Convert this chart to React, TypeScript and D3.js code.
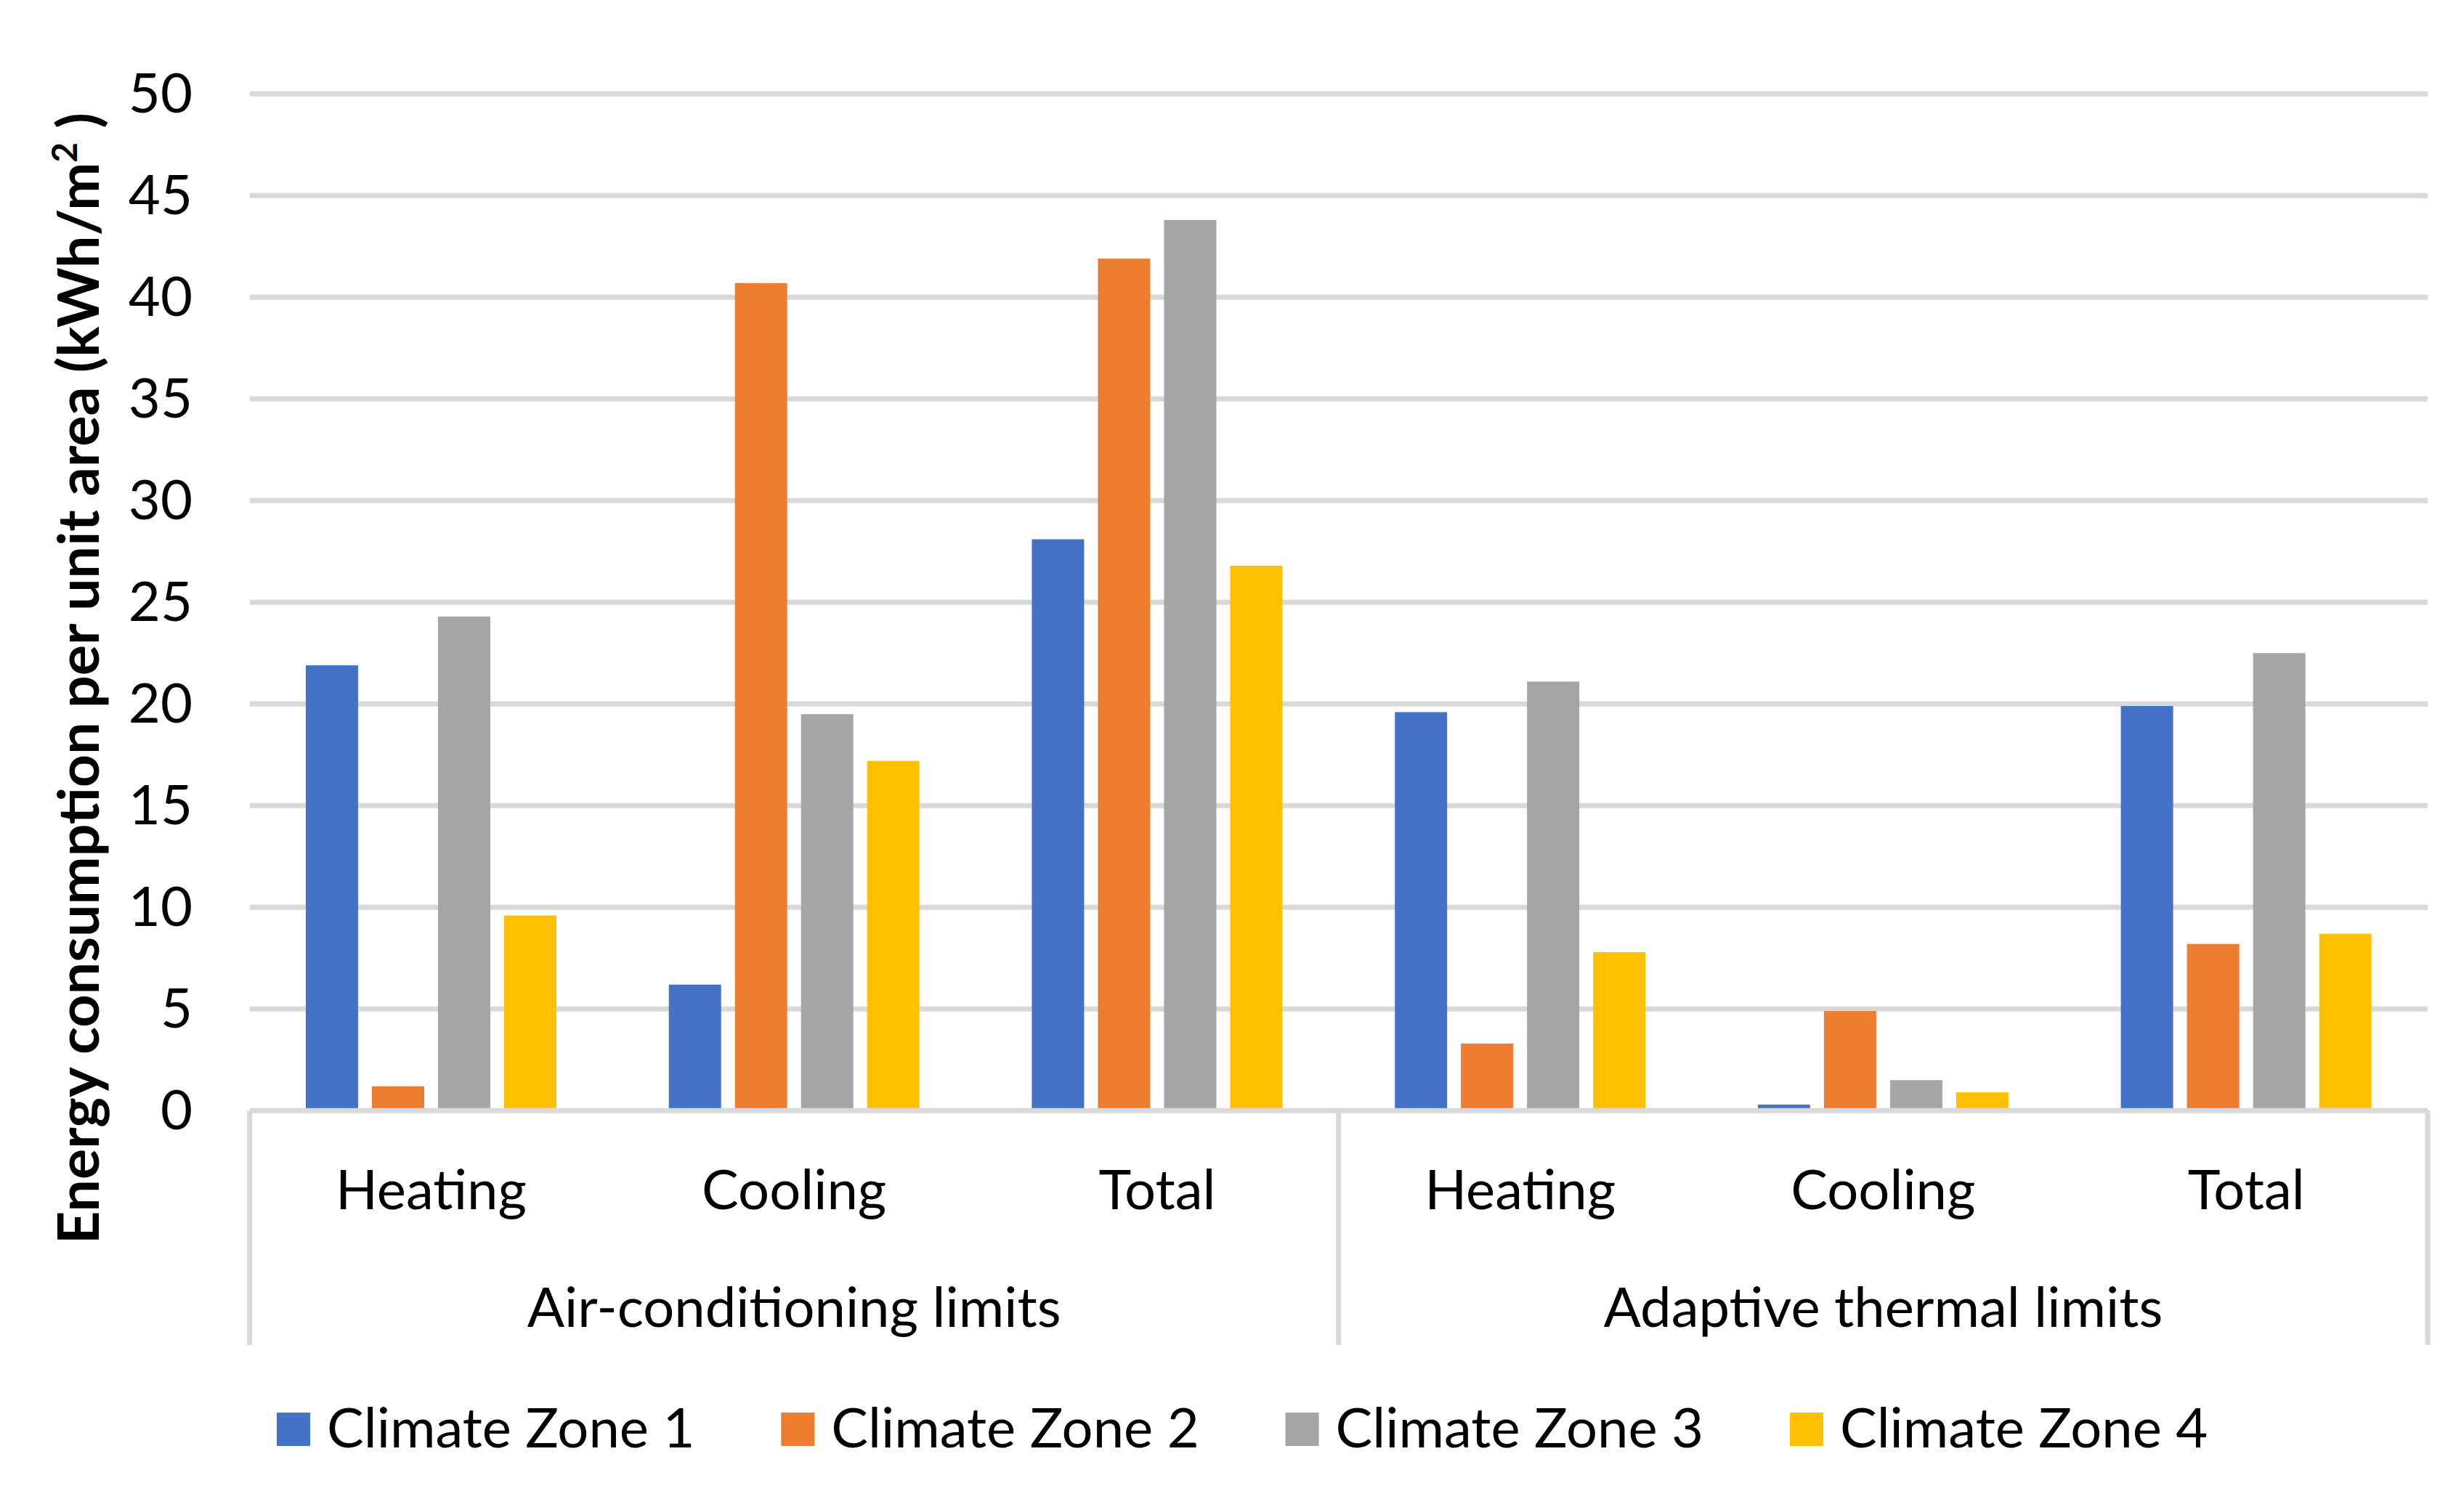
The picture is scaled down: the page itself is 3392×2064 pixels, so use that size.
import React from 'react';
import * as d3 from 'd3';

// categories (two-level x axis)
const categories = ['Heating', 'Cooling', 'Total', 'Heating', 'Cooling', 'Total'];
const groups = ['Air-conditioning limits', 'Adaptive thermal limits'];
const seriesNames = ['Climate Zone 1', 'Climate Zone 2', 'Climate Zone 3', 'Climate Zone 4'];

// energy consumption per unit area, kWh/m2
const zone1 = [21.9, 6.2, 28.1, 19.6, 0.3, 19.9];
const zone2 = [1.2, 40.7, 41.9, 3.3, 4.9, 8.2];
const zone3 = [24.3, 19.5, 43.8, 21.1, 1.5, 22.5];
const zone4 = [9.6, 17.2, 26.8, 7.8, 0.9, 8.7];
const seriesValues = [zone1, zone2, zone3, zone4];

const yTicks = [0, 5, 10, 15, 20, 25, 30, 35, 40, 45, 50];

const colors = ['#4472C4', '#ED7D31', '#A5A5A5', '#FFC000'];

const W = 3392;
const H = 2064;
const FONT = 'Lato, "Open Sans", sans-serif';
const FS = 76;
const GRID = '#D9D9D9';

export default function App() {
  const plotLeft = 343.6;
  const plotRight = 3342;
  const yTop = 129.3;
  const yBottom = 1529.3;

  const x0 = d3.scaleBand<number>()
    .domain(d3.range(categories.length))
    .range([plotLeft, plotRight]);
  const bw = x0.bandwidth();
  const span = 345;
  const x1 = d3.scaleBand<number>()
    .domain(d3.range(seriesNames.length))
    .range([(bw - span) / 2, (bw + span) / 2])
    .paddingInner(0.209)
    .paddingOuter(0);

  const y = d3.scaleLinear().domain([0, 50]).range([yBottom, yTop]);

  const groupX = d3.scaleBand<number>()
    .domain(d3.range(groups.length))
    .range([plotLeft, plotRight]);

  const legendX0 = 381;
  const legendStride = 694.3;

  return (
    <div style={{ position: 'absolute', left: 0, top: 0 }}>
      <svg width={W} height={H} style={{ display: 'block', background: '#fff' }}>
        <rect x={0} y={0} width={W} height={H} fill="#fff" />

        {/* gridlines */}
        {yTicks.filter((t) => t > 0).map((t) => (
          <line key={t} x1={plotLeft} x2={plotRight} y1={y(t)} y2={y(t)} stroke={GRID} strokeWidth={7} />
        ))}

        {/* y tick labels */}
        {yTicks.map((t) => (
          <text key={t} x={265} y={y(t) + 26} textAnchor="end" fontFamily={FONT} fontSize={FS} fill="#000">
            {t}
          </text>
        ))}

        {/* bars */}
        {categories.map((c, i) => (
          <g key={i} transform={`translate(${x0(i)},0)`}>
            {seriesValues.map((vals, s) => (
              <rect
                key={s}
                x={x1(s)}
                y={y(vals[i])}
                width={x1.bandwidth()}
                height={yBottom - y(vals[i])}
                fill={colors[s]}
              />
            ))}
          </g>
        ))}

        {/* x axis line and group separators */}
        <line x1={plotLeft} x2={plotRight} y1={yBottom} y2={yBottom} stroke={GRID} strokeWidth={7} />
        {d3.range(groups.length + 1).map((g) => {
          const gx = g < groups.length ? groupX(g)! : plotRight;
          return (
            <line key={g} x1={gx} x2={gx} y1={yBottom} y2={1852} stroke={GRID} strokeWidth={7} />
          );
        })}

        {/* category labels */}
        {categories.map((c, i) => (
          <text key={i} x={x0(i)! + bw / 2} y={1665} textAnchor="middle" fontFamily={FONT} fontSize={FS} fill="#000">
            {c}
          </text>
        ))}

        {/* group labels */}
        {groups.map((g, gi) => (
          <text
            key={g}
            x={groupX(gi)! + groupX.bandwidth() / 2}
            y={1827}
            textAnchor="middle"
            fontFamily={FONT}
            fontSize={FS}
            fill="#000"
          >
            {g}
          </text>
        ))}

        {/* y axis title */}
        <text
          transform={`translate(136, 934) rotate(-90)`}
          textAnchor="middle"
          fontFamily={FONT}
          fontWeight="bold"
          fontSize={79}
          fill="#000"
        >
          Energy consumption per unit area (kWh/m
          <tspan fontSize={48} dy={-30}>2</tspan>
          <tspan dy={30}> )</tspan>
        </text>

        {/* legend */}
        {seriesNames.map((name, s) => (
          <g key={name} transform={`translate(${legendX0 + s * legendStride},0)`}>
            <rect x={0} y={1945} width={46} height={46} fill={colors[s]} />
            <text x={69} y={1993} fontFamily={FONT} fontSize={FS} fill="#000">
              {name}
            </text>
          </g>
        ))}
      </svg>
    </div>
  );
}
